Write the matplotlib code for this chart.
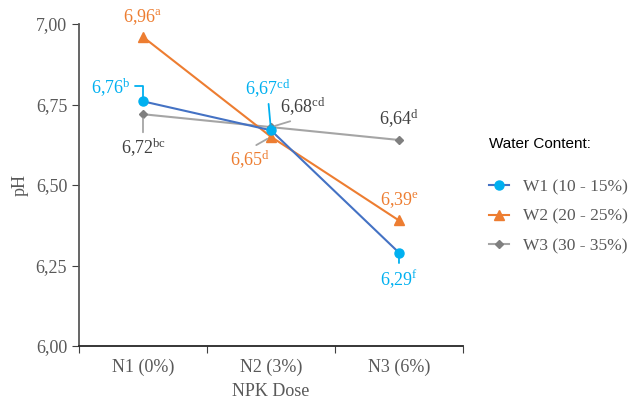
import matplotlib
matplotlib.use('Agg')
import matplotlib.pyplot as plt
from matplotlib.ticker import FixedLocator, FuncFormatter, NullFormatter

plt.rcParams['font.family'] = ['Liberation Serif', 'DejaVu Serif']
plt.rcParams['mathtext.fontset'] = 'custom'
plt.rcParams['mathtext.rm'] = 'Liberation Serif'
plt.rcParams['mathtext.it'] = 'Liberation Serif'

categories = ['N1 (0%)', 'N2 (3%)', 'N3 (6%)']
w1 = [6.76, 6.67, 6.29]
w2 = [6.96, 6.65, 6.39]
w3 = [6.72, 6.68, 6.64]
w1_letters = ['b', 'cd', 'f']
w2_letters = ['a', 'd', 'e']
w3_letters = ['bc', 'cd', 'd']
series_names = ['W1 (10 - 15%)', 'W2 (20 - 25%)', 'W3 (30 - 35%)']

fig = plt.figure(figsize=(6.35, 4.01), dpi=100)
ax = fig.add_axes([0.1244, 0.137, 0.6047, 0.803])

x = list(range(len(categories)))
ax.plot(x, w1, color='#4472C4', lw=1.5, marker='o', ms=6.5,
        mfc='#00B0F0', mec='#00B0F0', label=series_names[0], zorder=3)
ax.plot(x, w2, color='#ED7D31', lw=1.5, marker='^', ms=6.5,
        mfc='#ED7D31', mec='#ED7D31', label=series_names[1], zorder=2)
ax.plot(x, w3, color='#A5A5A5', lw=1.5, marker='D', ms=4,
        mfc='#7F7F7F', mec='#7F7F7F', label=series_names[2], zorder=1)

ax.set_xlim(-0.5, 2.5)
ax.set_ylim(6.0, 7.0)
ax.set_yticks([6.0, 6.25, 6.5, 6.75, 7.0])
ax.yaxis.set_major_formatter(FuncFormatter(lambda v, p: f'{v:.2f}'.replace('.', ',')))
ax.xaxis.set_major_locator(FixedLocator([-0.5, 0.5, 1.5, 2.5]))
ax.xaxis.set_major_formatter(NullFormatter())
ax.xaxis.set_minor_locator(FixedLocator(x))
ax.set_xticklabels(categories, minor=True)
ax.tick_params(axis='x', which='minor', length=0, pad=9, labelsize=13, labelcolor='#595959')
ax.tick_params(axis='x', which='major', length=5, color='#404040')
ax.tick_params(axis='y', length=5, color='#404040', labelsize=13, labelcolor='#595959')
for s in ['top', 'right']:
    ax.spines[s].set_visible(False)
ax.spines['left'].set_color('#595959')
ax.spines['bottom'].set_color('#262626')
ax.spines['left'].set_linewidth(1.3)
ax.spines['bottom'].set_linewidth(1.3)

ax.set_xlabel('NPK Dose', fontsize=13, color='#595959', labelpad=5)
ax.set_ylabel('pH', fontsize=13, color='#595959', labelpad=5)


def label(val, letter, idx, off, color, lead=None, lead_color=None, conn='arc3'):
    txt = r'$\mathrm{' + f'{val:.2f}'.replace('.', '{,}') + r'}^{\mathrm{' + letter + r'}}$'
    kw = {}
    if lead is not None:
        kw['arrowprops'] = dict(arrowstyle='-', color=lead_color, lw=1.3,
                                shrinkA=1, shrinkB=3, relpos=lead,
                                connectionstyle=conn)
    ax.annotate(txt, xy=(idx, val), xytext=off, textcoords='offset points',
                ha='center', va='center', fontsize=13, color=color, **kw)


cyan = '#00B0F0'
orange = '#ED7D31'
dark = '#404040'
gray = '#A5A5A5'

label(w2[0], w2_letters[0], 0, (0, 14.5), orange)
label(w1[0], w1_letters[0], 0, (-23, 10), cyan, (1.0, 0.55), cyan,
      'angle,angleA=0,angleB=90,rad=0')
label(w3[0], w3_letters[0], 0, (0, -24), dark, (0.5, 1.0), gray)
label(w1[1], w1_letters[1], 1, (-2, 30), cyan, (0.5, 0.0), cyan)
label(w3[1], w3_letters[1], 1, (23, 14.5), dark, (0.45, 0.0), gray)
label(w2[1], w2_letters[1], 1, (-15, -16.5), orange, (0.5, 1.0), gray)
label(w3[2], w3_letters[2], 2, (0, 15), dark)
label(w2[2], w2_letters[2], 2, (0, 15), orange)
label(w1[2], w1_letters[2], 2, (0, -18.7), cyan, (0.5, 1.0), cyan)

leg = fig.legend(loc='upper left', bbox_to_anchor=(0.745, 0.697), frameon=False,
                 title='Water Content:', alignment='left', fontsize=12.5,
                 handlelength=1.15, handletextpad=0.8, labelspacing=0.77,
                 title_fontproperties={'family': 'Liberation Sans', 'size': 11})
for t in leg.get_texts():
    t.set_color('#595959')
leg.get_title().set_color('#000000')
leg._legend_box.sep = 20

fig.savefig('out.png', dpi=100)
